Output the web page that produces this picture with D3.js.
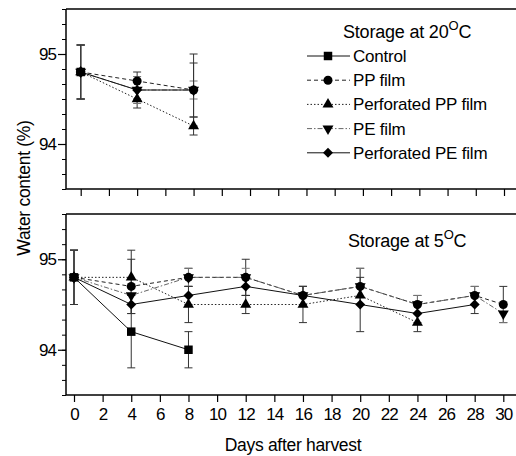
<!DOCTYPE html>
<html>
<head>
<meta charset="utf-8">
<script src="https://cdn.jsdelivr.net/npm/d3@7"></script>
<style>
	body { margin: 0; background: #fff; }
	svg { display: block; font-family: "Liberation Sans", Arial, sans-serif; }
	text { fill: #000; }
</style>
</head>
<body>
<svg id="chart" width="516" height="456"></svg>
<script>
// series names, in legend order
var seriesNames = ["Control", "PP film", "Perforated PP film", "PE film", "Perforated PE film"];

// storage at 20 C
var days20 = [0, 4, 8];
var control20 = [94.8];
var control20Err = [0.3];
var pp20 = [94.8, 94.7, 94.6];
var pp20Err = [0.3, 0.1, 0.4];
var perfPP20 = [94.8, 94.5, 94.2];
var perfPP20Err = [0.3, 0.1, 0.1];
var pe20 = [94.8, 94.6, 94.6];
var pe20Err = [0.3, 0.15, 0.1];
var perfPE20 = [94.8, 94.6, 94.6];
var perfPE20Err = [0.3, 0.1, 0.3];

// storage at 5 C
var days5 = [0, 4, 8, 12, 16, 20, 24, 28, 30];
var control5 = [94.8, 94.2, 94.0];
var control5Err = [0.3, 0.4, 0.2];
var pp5 = [94.8, 94.7, 94.8, 94.8, 94.6, 94.7, 94.5, 94.6, 94.5];
var pp5Err = [0.3, 0.3, 0.1, 0.2, 0.1, 0.2, 0.1, 0.1, 0.2];
var perfPP5 = [94.8, 94.8, 94.5, 94.5, 94.5, 94.6, 94.3];
var perfPP5Err = [0.3, 0.3, 0.2, 0.1, 0.2, 0.1, 0.1];
var pe5 = [94.8, 94.6, 94.8, 94.8, 94.6, 94.7, 94.5, 94.6, 94.4];
var pe5Err = [0.3, 0.1, 0.1, 0.1, 0.1, 0.2, 0.1, 0.1, 0.1];
var perfPE5 = [94.8, 94.5, 94.6, 94.7, 94.6, 94.5, 94.4, 94.5];
var perfPE5Err = [0.3, 0.1, 0.1, 0.1, 0.1, 0.3, 0.1, 0.1];

var xTicks = [0, 2, 4, 6, 8, 10, 12, 14, 16, 18, 20, 22, 24, 26, 28, 30];
var yTicks = [94, 95];

var styles = [
	{ dash: null, color: "#111", symbol: "square" },
	{ dash: "4,3", color: "#222", symbol: "circle" },
	{ dash: "1.5,2", color: "#222", symbol: "triangle" },
	{ dash: "5,2,1.5,2", color: "#666", symbol: "down" },
	{ dash: null, color: "#111", symbol: "diamond" }
];

function buildSeries(days, values, errs) {
	return values.map(function(v, i) { return { day: days[i], value: v, err: errs[i] }; });
}

var panel20 = [
	buildSeries(days20, control20, control20Err),
	buildSeries(days20, pp20, pp20Err),
	buildSeries(days20, perfPP20, perfPP20Err),
	buildSeries(days20, pe20, pe20Err),
	buildSeries(days20, perfPE20, perfPE20Err)
];
var panel5 = [
	buildSeries(days5, control5, control5Err),
	buildSeries(days5, pp5, pp5Err),
	buildSeries(days5, perfPP5, perfPP5Err),
	buildSeries(days5, pe5, pe5Err),
	buildSeries(days5, perfPE5, perfPE5Err)
];

var svg = d3.select("#chart");

function symbolPath(name) {
	if (name == "square") return d3.symbol(d3.symbolSquare, 72)();
	if (name == "circle") return d3.symbol(d3.symbolCircle, 64)();
	if (name == "triangle" || name == "down") return d3.symbol(d3.symbolTriangle, 52)();
	return d3.symbol(d3.symbolSquare, 50)();
}

function symbolRotate(name) {
	if (name == "down") return " rotate(180)";
	if (name == "diamond") return " rotate(45)";
	return "";
}

function drawPanel(data, top, bottom, x0, x30, showLabels, title) {
	var g = svg.append("g");
	var x = d3.scaleLinear().domain([0, 30]).range([x0, x30]);
	var y = d3.scaleLinear().domain([93.5, 95.5]).range([bottom, top]);

	// frame
	g.append("line").attr("x1", 66).attr("x2", 516).attr("y1", top).attr("y2", top)
		.attr("stroke", "#000").attr("stroke-width", 1.5);
	g.append("line").attr("x1", 66).attr("x2", 66).attr("y1", top).attr("y2", bottom)
		.attr("stroke", "#000").attr("stroke-width", 1.5);
	g.append("line").attr("x1", 66).attr("x2", 516).attr("y1", bottom).attr("y2", bottom)
		.attr("stroke", "#000").attr("stroke-width", 1.5);

	// x axis
	var xAxis = d3.axisBottom(x).tickValues(xTicks).tickSize(7).tickPadding(6);
	if (!showLabels) xAxis.tickFormat("");
	var xg = g.append("g").attr("transform", "translate(0," + bottom + ")").call(xAxis);
	xg.select(".domain").remove();
	xg.selectAll(".tick line").attr("stroke", "#000").attr("stroke-width", 1.2);
	xg.selectAll(".tick text").attr("font-size", 17).attr("font-family", "Liberation Sans").attr("letter-spacing", -0.8);

	// y axis, minor then major
	var minor = d3.range(93.5, 95.51, 1 / 6);
	var ym = g.append("g").attr("transform", "translate(66,0)")
		.call(d3.axisLeft(y).tickValues(minor).tickSize(4).tickFormat(""));
	ym.select(".domain").remove();
	ym.selectAll(".tick line").attr("stroke", "#000").attr("stroke-width", 1);
	var yg = g.append("g").attr("transform", "translate(66,0)")
		.call(d3.axisLeft(y).tickValues(yTicks).tickSize(8).tickPadding(2).tickFormat(d3.format("d")));
	yg.select(".domain").remove();
	yg.selectAll(".tick line").attr("stroke", "#000").attr("stroke-width", 1.2);
	yg.selectAll(".tick text").attr("font-size", 17).attr("font-family", "Liberation Sans").attr("letter-spacing", -1);

	// error bars
	data.forEach(function(series, si) {
		series.forEach(function(d) {
			var cx = x(d.day);
			var eg = g.append("g").attr("stroke", si == 3 ? "#777" : "#333").attr("stroke-width", 1);
			eg.append("line").attr("x1", cx).attr("x2", cx).attr("y1", y(d.value + d.err)).attr("y2", y(d.value - d.err));
			eg.append("line").attr("x1", cx - 4).attr("x2", cx + 4).attr("y1", y(d.value + d.err)).attr("y2", y(d.value + d.err));
			eg.append("line").attr("x1", cx - 4).attr("x2", cx + 4).attr("y1", y(d.value - d.err)).attr("y2", y(d.value - d.err));
		});
	});

	// lines
	var line = d3.line().x(function(d) { return x(d.day); }).y(function(d) { return y(d.value); });
	data.forEach(function(series, si) {
		g.append("path").datum(series)
			.attr("d", line)
			.attr("fill", "none")
			.attr("stroke", styles[si].color)
			.attr("stroke-width", 1)
			.attr("stroke-dasharray", styles[si].dash);
	});

	// markers
	data.forEach(function(series, si) {
		g.selectAll(".m" + si).data(series).enter().append("path")
			.attr("class", "m" + si)
			.attr("d", symbolPath(styles[si].symbol))
			.attr("transform", function(d) { return "translate(" + x(d.day) + "," + y(d.value) + ")" + symbolRotate(styles[si].symbol); })
			.attr("fill", "#000");
	});

	// title
	var t = g.append("text").attr("x", title.x).attr("y", title.y)
		.attr("font-size", 18).attr("letter-spacing", -0.2);
	t.append("tspan").text(title.text);
	t.append("tspan").attr("font-size", 13).attr("dy", -8).text("O");
	t.append("tspan").attr("dy", 8).text("C");
}

drawPanel(panel20, 9, 189, 80.7, 504, false, { x: 343, y: 37.5, text: "Storage at 20" });
drawPanel(panel5, 214, 395, 74, 503.3, true, { x: 348, y: 246.5, text: "Storage at 5" });

// legend
var legend = svg.append("g");
seriesNames.forEach(function(name, i) {
	var ly = 56 + i * 24.2;
	legend.append("line").attr("x1", 307).attr("x2", 350).attr("y1", ly).attr("y2", ly)
		.attr("stroke", styles[i].color).attr("stroke-width", 1)
		.attr("stroke-dasharray", styles[i].dash);
	legend.append("path").attr("d", symbolPath(styles[i].symbol))
		.attr("transform", "translate(328," + ly + ")" + symbolRotate(styles[i].symbol))
		.attr("fill", "#000");
	legend.append("text").attr("x", 353).attr("y", ly + 6)
		.attr("font-size", 17).attr("letter-spacing", -0.2).text(name);
});

// axis titles
svg.append("text").attr("transform", "translate(30,188) rotate(-90)")
	.attr("text-anchor", "middle").attr("font-size", 17.5).attr("letter-spacing", -0.3)
	.text("Water content (%)");
svg.append("text").attr("x", 293).attr("y", 451)
	.attr("text-anchor", "middle").attr("font-size", 17.5).attr("letter-spacing", -0.3)
	.text("Days after harvest");
</script>
</body>
</html>
